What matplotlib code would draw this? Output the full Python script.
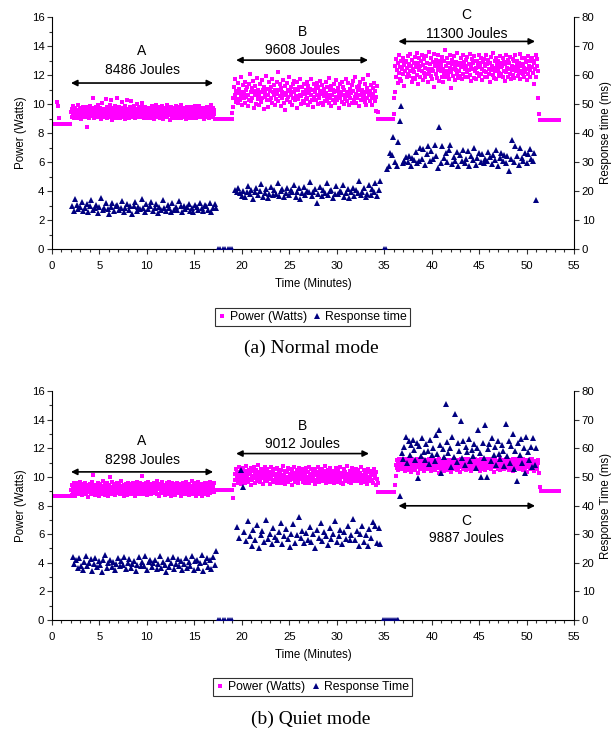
import numpy as np
import matplotlib.pyplot as plt
from matplotlib.lines import Line2D
from matplotlib.ticker import MultipleLocator

plt.rcParams['font.family'] = ['Liberation Sans', 'DejaVu Sans']

PINK = '#ff00ff'
NAVY = '#000080'

# ---- (a) normal mode: power (W), one list per segment, spans in minutes
pa_idle1 = [8.62, 8.62, 8.62, 8.62, 8.62, 10.15, 9.85, 9.02, 8.62, 8.62,
            8.62, 8.62, 8.62, 8.62, 8.62, 8.62, 8.62, 8.62, 8.62, 8.62]
pa_A = [9.45, 9.12, 9.68, 9.30, 9.85, 9.05, 9.52, 9.21, 9.74, 9.38, 9.02, 9.61, 9.27,
        9.90, 9.15, 9.48, 9.33, 9.70, 8.95, 9.56, 9.41, 9.19, 9.82, 9.08, 9.36, 9.64,
        9.25, 9.77, 9.11, 8.45, 9.50, 9.29, 9.66, 9.03, 9.43, 9.88, 9.17, 9.59, 9.35,
        10.45, 9.22, 9.71, 9.06, 9.47, 9.31, 9.80, 9.14, 9.55, 9.39, 9.96, 9.09, 9.62,
        9.26, 9.73, 9.00, 9.44, 10.05, 9.18, 9.57, 9.34, 9.69, 9.10, 9.49, 10.35, 9.23,
        9.83, 9.07, 9.40, 9.65, 9.28, 9.93, 9.13, 9.53, 10.25, 9.37, 8.92, 9.75, 9.20,
        9.58, 9.32, 9.87, 9.04, 9.46, 10.40, 9.16, 9.63, 9.36, 9.78, 9.01, 9.51, 9.24,
        9.70, 9.42, 10.15, 9.11, 9.60, 9.33, 9.84, 8.97, 9.54, 9.27, 10.30, 9.19, 9.67,
        9.40, 9.06, 9.79, 9.30, 9.57, 10.20, 9.12, 9.45, 9.72, 9.25, 9.89, 9.03, 9.52,
        9.36, 9.66, 9.14, 9.98, 9.21, 9.48, 9.74, 9.09, 9.60, 9.35, 9.82, 9.28, 10.05,
        9.32, 9.58, 9.07, 9.81, 9.44, 9.19, 9.67, 9.02, 9.53, 9.29, 9.76, 9.13, 9.40,
        9.62, 9.05, 9.49, 9.85, 9.24, 9.37, 9.71, 8.98, 9.55, 9.16, 9.91, 9.33, 9.08,
        9.69, 9.42, 9.20, 9.79, 9.04, 9.51, 9.28, 9.63, 9.12, 9.87, 9.38, 9.00, 9.59,
        9.26, 9.74, 9.15, 9.47, 9.95, 9.09, 9.34, 9.66, 9.22, 9.56, 8.88, 9.43, 9.80,
        9.18, 9.61, 9.31, 9.03, 9.70, 9.46, 9.11, 9.85, 9.25, 9.52, 9.06, 9.77, 9.39,
        9.14, 9.64, 9.36, 9.92, 9.01, 9.50, 9.23, 9.73, 9.10, 9.45, 9.68, 9.30, 8.94,
        9.57, 9.21, 9.83, 9.07, 9.41, 9.65, 9.17, 9.54, 9.35, 9.78, 9.02, 9.48, 9.27,
        9.72, 9.13, 9.60, 9.38, 9.88, 9.05, 9.44, 9.24, 9.67, 9.19, 9.53, 9.86, 9.32,
        9.09, 9.62, 9.40, 9.75, 9.16, 9.50, 8.99, 9.70, 9.28, 9.58, 9.11, 9.82, 9.36,
        9.46, 9.20, 9.66, 9.04, 9.55, 9.33, 9.90, 9.14, 9.42, 9.74, 9.26, 9.60, 9.31]
pa_gap1 = [8.95, 8.95, 8.95, 8.95, 8.95, 8.95, 8.95, 8.95, 8.95, 8.95,
           8.95, 8.95, 8.95, 8.95, 8.95, 8.95, 8.95, 8.95, 8.95]
pa_B = [9.35, 9.80, 10.45, 11.20, 10.60, 11.70, 10.15, 10.90, 10.35, 11.45, 10.05, 10.75, 11.05,
        10.25, 11.90, 10.55, 10.85, 9.95, 11.30, 10.40, 10.70, 11.55, 10.10, 10.95, 10.50, 11.15,
        9.85, 10.65, 11.35, 10.30, 12.05, 10.80, 10.20, 11.10, 10.45, 11.60, 9.75, 10.90, 10.60,
        11.25, 10.00, 10.70, 11.80, 10.35, 11.00, 10.55, 9.90, 11.40, 10.15, 10.85, 11.65, 10.40,
        10.95, 9.65, 11.20, 10.50, 10.75, 11.95, 10.25, 11.05, 10.60, 9.80, 11.50, 10.30, 10.90,
        11.15, 10.45, 11.75, 10.05, 10.80, 11.30, 10.65, 9.95, 11.00, 10.35, 11.55, 10.70, 12.20,
        10.20, 10.95, 11.40, 10.55, 9.85, 11.10, 10.40, 10.85, 11.65, 10.10, 10.60, 11.25, 9.60,
        10.75, 11.45, 10.30, 11.00, 10.50, 11.85, 10.15, 10.90, 11.20, 10.65, 9.90, 11.35, 10.45,
        10.80, 11.60, 10.25, 11.05, 10.55, 9.75, 11.50, 10.35, 10.95, 11.15, 10.60, 11.70, 10.00,
        10.55, 11.15, 10.20, 10.85, 11.40, 10.05, 10.70, 11.00, 10.35, 11.55, 10.45, 9.90, 11.25,
        10.75, 10.15, 11.05, 10.60, 11.70, 10.30, 10.95, 9.80, 11.35, 10.50, 10.80, 11.10, 10.25,
        11.45, 10.65, 10.00, 11.20, 10.40, 10.90, 11.60, 10.10, 10.70, 11.30, 9.95, 10.85, 10.55,
        11.05, 10.20, 11.50, 10.75, 10.35, 11.15, 10.60, 11.80, 10.05, 10.95, 10.45, 11.25, 9.85,
        10.65, 11.00, 10.30, 11.40, 10.80, 10.10, 11.65, 10.50, 10.90, 10.25, 11.10, 10.70, 9.70,
        11.35, 10.40, 10.85, 11.55, 10.15, 10.60, 11.20, 10.00, 10.95, 10.35, 11.75, 10.55, 10.80,
        10.20, 11.45, 10.65, 9.90, 11.05, 10.45, 10.75, 11.30, 10.10, 10.90, 11.60, 10.30, 10.50,
        11.85, 10.70, 10.05, 11.15, 10.40, 10.95, 11.25, 9.85, 10.60, 11.50, 10.25, 10.85, 11.00,
        10.35, 11.70, 10.55, 10.15, 11.35, 10.80, 9.95, 11.10, 10.45, 12.00, 10.65, 10.90, 10.20,
        10.85, 11.30, 10.40, 9.95, 11.10, 10.70, 11.45, 10.20, 10.90, 9.55, 10.50, 11.25, 9.45]
pa_gap2 = [9.00, 9.00, 9.00, 9.00, 9.00, 9.00, 9.00, 9.00,
           9.00, 9.00, 9.00, 9.00, 9.00, 9.00, 9.00, 9.00]
pa_C = [9.30, 10.40, 10.85, 12.60, 11.90, 13.10, 12.35, 11.45, 12.80, 12.15, 13.35, 11.75, 12.55,
        12.95, 11.60, 12.40, 13.20, 12.05, 12.70, 11.25, 12.90, 12.25, 13.00, 11.85, 12.50, 13.30,
        12.10, 12.75, 11.95, 13.45, 12.30, 12.65, 11.50, 13.05, 12.45, 11.80, 12.85, 12.20, 13.25,
        11.70, 12.55, 13.50, 12.00, 12.80, 11.40, 12.35, 13.15, 12.60, 11.90, 12.95, 12.25, 13.40,
        11.65, 12.70, 12.15, 13.10, 11.85, 12.50, 13.30, 12.05, 12.85, 11.55, 12.40, 13.60, 12.20,
        12.75, 11.95, 13.20, 12.45, 11.75, 12.90, 12.30, 13.45, 11.20, 12.60, 13.05, 12.10, 12.80,
        11.80, 12.35, 13.35, 12.55, 11.60, 13.00, 12.25, 12.70, 11.90, 13.25, 12.40, 11.50, 12.95,
        12.15, 13.75, 12.65, 11.85, 12.30, 13.15, 12.00, 12.85, 11.70, 12.50, 13.40, 12.20, 11.10,
        12.75, 13.05, 12.45, 11.95, 13.30, 12.60, 11.65, 12.90, 12.35, 13.50, 12.05, 12.70, 11.80,
        12.30, 12.85, 11.95, 13.15, 12.55, 11.70, 12.70, 13.35, 12.10, 12.90, 12.40, 11.85, 13.05,
        12.60, 12.20, 13.25, 11.90, 12.75, 12.35, 13.45, 12.00, 12.65, 11.60, 13.10, 12.45, 12.80,
        11.80, 13.30, 12.25, 12.95, 12.50, 11.75, 13.00, 12.15, 12.70, 13.40, 11.95, 12.55, 12.85,
        12.05, 13.20, 12.40, 11.65, 12.90, 12.30, 13.10, 11.85, 12.60, 12.20, 13.35, 12.75, 11.90,
        13.05, 12.45, 12.10, 12.80, 11.55, 13.25, 12.35, 12.65, 12.00, 13.50, 12.50, 11.80, 12.95,
        12.25, 13.15, 11.70, 12.70, 12.40, 13.00, 12.15, 11.95, 12.85, 13.30, 12.55, 12.05, 12.60,
        11.85, 13.20, 12.30, 12.90, 11.60, 12.75, 13.40, 12.20, 12.50, 11.90, 13.05, 12.45, 12.80,
        12.10, 13.25, 11.75, 12.65, 12.35, 13.10, 12.00, 12.95, 11.80, 12.55, 13.35, 12.25, 12.70,
        13.00, 11.95, 12.40, 12.85, 12.15, 13.45, 11.70, 12.60, 12.30, 13.15, 12.05, 12.75, 11.85,
        12.50, 13.20, 12.20, 12.90, 11.65, 12.45, 13.30, 12.10, 12.65, 12.95, 11.90, 12.35, 13.05,
        13.20, 12.55, 12.15, 13.00, 11.40, 12.80, 12.40, 13.35, 11.90, 12.65, 13.10, 12.25, 10.40, 9.30]
pa_idle2 = [8.88, 8.88, 8.88, 8.88, 8.88, 8.88, 8.88, 8.88, 8.88, 8.88, 8.88,
            8.88, 8.88, 8.88, 8.88, 8.88, 8.88, 8.88, 8.88, 8.88, 8.88]
pa_spans = [(0.0, 1.95), (2.0, 17.1), (17.2, 19.0), (19.0, 34.3), (34.4, 35.9), (36.0, 51.3), (51.4, 53.4)]

# (a) response time (ms)
ra_A = [14.8, 13.2, 17.2, 15.1, 13.8, 14.5, 16.3, 13.0, 14.2, 15.6, 12.8, 14.9, 16.8, 13.5, 14.0,
        15.3, 12.5, 14.6, 17.5, 13.3, 14.1, 15.8, 13.7, 12.2, 14.4, 16.0, 13.1, 14.8, 15.2, 13.6,
        14.3, 16.6, 12.9, 14.0, 15.5, 13.4, 14.7, 12.0, 15.0, 16.2, 13.2, 14.5, 13.9, 17.3, 14.1,
        12.6, 15.4, 13.8, 14.9, 16.1, 13.0, 14.3, 15.7, 12.4, 14.6, 13.5, 16.9, 14.2, 13.1, 15.2,
        14.0, 12.7, 15.9, 13.6, 14.4, 13.3, 16.4, 14.8, 12.9, 15.0, 13.7, 14.5, 15.6, 13.2, 14.1,
        12.8, 15.3, 14.6, 13.4, 16.0, 14.2, 13.0, 15.1, 14.7, 13.5, 15.8, 12.6, 14.3, 15.4, 14.0]
ra_zero1 = [0, 0, 0, 0, 0, 0, 0]
ra_B = [20.5, 19.8, 21.0, 19.2, 18.4, 20.1, 17.8, 19.5, 21.6, 18.9, 20.3, 17.2, 19.7, 21.2, 18.6,
        20.0, 22.4, 18.1, 19.4, 20.8, 17.6, 19.0, 21.4, 18.7, 20.2, 19.1, 22.8, 18.3, 19.9, 20.6,
        17.9, 19.3, 21.1, 18.5, 20.4, 19.6, 22.1, 18.0, 19.8, 20.9, 17.4, 19.2, 21.5, 18.8, 20.1,
        19.5, 23.0, 18.2, 19.7, 20.7, 16.0, 19.0, 21.3, 18.4, 20.3, 19.4, 22.6, 18.6, 19.9, 20.5,
        17.7, 19.1, 21.8, 18.9, 20.0, 19.6, 22.2, 18.1, 19.3, 20.8, 17.5, 19.8, 21.0, 18.3, 20.4,
        19.2, 23.4, 18.7, 19.5, 21.2, 17.9, 19.0, 22.0, 18.5, 20.6, 19.7, 22.9, 18.2, 20.2, 23.3]
ra_zero2 = [0, 0]
ra_C = [27.5, 28.8, 33.0, 32.5, 38.8, 30.0, 28.5, 36.8, 44.0, 49.2, 29.5, 30.5, 31.8, 30.0, 32.0,
        28.5, 31.5, 30.8, 33.5, 29.8, 30.5, 34.8, 31.2, 34.5, 29.0, 32.8, 35.5, 30.2, 33.8, 31.0,
        35.8, 32.0, 28.0, 42.0, 29.5, 35.5, 31.5, 33.2, 30.0, 34.0, 35.8, 29.2, 31.8, 30.5, 33.5,
        28.8, 32.5, 30.2, 34.2, 29.5, 31.0, 33.8, 28.5, 32.0, 30.8, 34.8, 29.0, 31.5, 33.0, 30.0,
        32.8, 29.8, 31.2, 30.5, 33.5, 31.8, 29.2, 32.5, 30.8, 34.0, 28.8, 31.5, 33.2, 30.2, 32.5,
        29.5, 32.0, 27.0, 31.0, 37.5, 30.0, 35.5, 32.2, 29.0, 34.8, 31.5, 30.5, 33.0, 29.8, 32.8,
        34.5, 31.0, 30.2, 33.2, 16.8]
ra_spans = [(2.1, 17.3), (17.5, 19.0), (19.3, 34.6), (35.0, 35.15), (35.3, 51.0)]

# ---- (b) quiet mode: power (W)
pb_idle1 = [8.66, 8.66, 8.66, 8.66, 8.66, 8.66, 8.66, 8.66, 8.66, 8.66, 8.66,
            8.66, 8.66, 8.66, 8.66, 8.66, 8.66, 8.66, 8.66, 8.66, 8.66]
pb_A = [9.05, 8.75, 9.40, 9.15, 8.85, 9.55, 9.00, 9.30, 8.70, 9.60, 9.10, 8.90, 9.45,
        9.20, 8.80, 9.35, 9.05, 9.65, 8.95, 9.25, 8.72, 9.50, 9.12, 8.88, 9.38, 9.02,
        9.58, 8.78, 9.28, 9.08, 8.62, 9.42, 9.18, 8.92, 9.52, 9.00, 9.32, 8.82, 9.62,
        9.14, 10.12, 8.96, 9.36, 9.06, 8.74, 9.46, 9.22, 8.86, 9.56, 9.04, 9.26, 8.68,
        9.48, 9.16, 8.94, 9.34, 9.10, 9.70, 8.84, 9.24, 9.02, 8.76, 9.44, 9.20, 8.98,
        9.54, 9.08, 8.66, 9.40, 9.12, 10.02, 8.90, 9.30, 9.06, 9.64, 8.80, 9.18, 9.50,
        8.96, 9.28, 8.72, 9.38, 9.10, 9.58, 8.88, 9.22, 9.00, 9.46, 8.78, 9.34, 9.14,
        9.68, 8.92, 9.26, 9.04, 8.64, 9.42, 9.16, 8.86, 9.52, 9.08, 9.32, 8.74, 9.60,
        9.02, 9.24, 8.94, 9.48, 9.12, 8.82, 9.36, 9.06, 9.56, 8.98, 9.20, 8.70, 9.44,
        9.10, 9.30, 8.90, 9.62, 9.00, 9.40, 8.84, 9.18, 9.54, 8.96, 9.28, 10.08, 9.05,
        9.22, 8.84, 9.48, 9.06, 8.96, 9.58, 9.14, 8.72, 9.36, 9.02, 9.64, 8.90, 9.28,
        9.10, 9.52, 8.78, 9.40, 9.00, 9.26, 8.86, 9.60, 9.16, 8.94, 9.44, 9.04, 9.68,
        8.80, 9.32, 9.12, 8.70, 9.50, 9.20, 8.98, 9.38, 9.08, 9.62, 8.88, 9.24, 9.46,
        9.02, 8.76, 9.34, 9.18, 9.56, 8.92, 9.30, 9.06, 9.66, 8.82, 9.42, 9.14, 8.68,
        9.54, 9.00, 9.26, 8.96, 9.48, 9.10, 8.74, 9.36, 9.22, 9.60, 8.90, 9.16, 9.40,
        8.86, 9.52, 9.04, 9.28, 8.64, 9.44, 9.12, 8.98, 9.58, 9.08, 9.34, 8.80, 9.62,
        9.18, 8.94, 9.46, 9.02, 9.30, 8.72, 9.50, 9.20, 8.88, 9.38, 9.06, 9.70, 8.84,
        9.24, 9.56, 8.92, 9.32, 9.14, 8.66, 9.42, 9.00, 9.64, 8.78, 9.28, 9.10, 9.52,
        8.96, 9.36, 9.16, 8.70, 9.48, 9.04, 9.26, 8.82, 9.58, 9.12, 9.40, 8.90, 9.22,
        9.54, 8.76, 9.34, 9.08, 9.66, 8.86, 9.44, 9.18, 8.98, 9.30, 9.02, 9.60, 8.94]
pb_gap1 = [9.08, 9.08, 9.08, 9.08, 9.08, 9.08, 9.08, 9.08, 9.08, 9.08,
           9.08, 9.08, 9.08, 9.08, 9.08, 9.08, 9.08, 9.08, 8.50]
pb_B = [9.45, 10.20, 9.75, 10.55, 9.90, 10.35, 9.60, 10.10, 10.70, 9.85, 10.25, 9.50, 10.45,
        10.00, 9.70, 10.60, 10.15, 9.80, 10.40, 9.55, 10.05, 10.75, 9.95, 10.30, 9.65, 10.50,
        9.88, 10.18, 9.42, 10.62, 10.08, 9.78, 10.38, 9.92, 10.68, 9.58, 10.22, 9.98, 10.48,
        9.72, 10.12, 10.80, 9.85, 10.32, 9.62, 10.02, 10.58, 9.90, 10.28, 9.52, 10.42, 10.06,
        9.76, 10.66, 9.96, 10.24, 9.68, 10.52, 10.14, 9.82, 10.36, 9.48, 10.04, 10.72, 9.94,
        10.30, 9.64, 10.46, 10.10, 9.80, 10.56, 9.90, 10.20, 9.56, 10.64, 10.00, 9.74, 10.40,
        9.86, 10.26, 9.60, 10.50, 10.08, 9.96, 10.78, 9.70, 10.16, 9.50, 10.44, 10.02, 9.84,
        10.34, 9.66, 10.60, 9.92, 10.22, 9.78, 10.54, 10.06, 9.40, 10.38, 9.88, 10.12, 10.70,
        9.62, 10.28, 9.98, 10.48, 9.72, 10.18, 9.54, 10.62, 10.04, 9.82, 10.32, 9.90, 10.58,
        10.12, 9.66, 10.44, 9.88, 10.28, 9.56, 10.62, 10.02, 9.76, 10.36, 9.92, 10.70, 9.60,
        10.20, 9.84, 10.52, 10.06, 9.70, 10.40, 9.96, 10.24, 9.52, 10.58, 10.14, 9.80, 10.32,
        9.90, 10.66, 9.62, 10.08, 10.46, 9.74, 10.18, 9.98, 10.56, 9.68, 10.30, 9.86, 10.74,
        10.00, 9.58, 10.38, 10.10, 9.82, 10.50, 9.94, 10.26, 9.64, 10.64, 10.04, 9.78, 10.42,
        9.88, 10.16, 9.54, 10.34, 10.08, 9.72, 10.60, 9.92, 10.22, 9.66, 10.48, 10.02, 9.84,
        10.68, 9.60, 10.30, 9.96, 10.12, 9.50, 10.54, 10.06, 9.76, 10.36, 9.90, 10.76, 9.70,
        10.20, 10.00, 9.62, 10.44, 9.86, 10.26, 9.56, 10.62, 10.10, 9.80, 10.40, 9.98, 10.18,
        9.68, 10.58, 9.94, 10.32, 9.74, 10.50, 10.04, 9.82, 10.28, 9.58, 10.66, 9.92, 10.14,
        9.64, 10.46, 10.08, 9.78, 10.38, 9.88, 10.22, 9.52, 10.56, 10.00, 9.72, 10.34, 9.96,
        9.68, 10.14, 10.42, 9.76, 10.26, 9.58, 10.52, 9.94, 10.10, 9.46, 10.36, 9.86, 9.60]
pb_gap2 = [8.97, 8.97, 8.97, 8.97, 8.97, 8.97, 8.97, 8.97, 8.97,
           8.97, 8.97, 8.97, 8.97, 8.97, 8.97, 8.97, 8.97, 9.43]
pb_C = [10.05, 10.85, 11.20, 10.60, 11.05, 10.45, 11.25, 10.90, 10.70, 11.15, 10.55, 11.00, 10.80,
        11.28, 10.65, 10.95, 10.40, 11.10, 10.75, 11.22, 10.58, 10.88, 11.08, 10.48, 11.18, 10.72,
        10.98, 10.35, 11.26, 10.82, 10.62, 11.12, 10.92, 10.50, 11.02, 10.78, 11.24, 10.68, 10.96,
        10.30, 11.16, 10.86, 10.56, 11.06, 10.74, 11.28, 10.64, 10.94, 10.44, 11.14, 10.84, 10.60,
        11.20, 10.90, 10.52, 11.04, 10.76, 11.26, 10.66, 10.98, 10.38, 11.10, 10.80, 10.58, 11.22,
        10.88, 10.70, 11.00, 10.46, 11.18, 10.82, 10.62, 11.08, 10.92, 10.28, 11.24, 10.72, 10.96,
        10.54, 11.12, 10.86, 10.66, 11.02, 10.42, 11.28, 10.78, 10.94, 10.60, 11.16, 10.84, 10.50,
        11.06, 10.74, 11.20, 10.64, 10.98, 10.36, 11.14, 10.88, 10.68, 11.26, 10.80, 10.56, 11.04,
        10.92, 10.48, 11.18, 10.76, 10.62, 11.10, 10.90, 10.32, 11.22, 10.84, 10.70, 11.00, 10.58,
        11.02, 10.66, 11.22, 10.84, 10.50, 11.14, 10.92, 10.72, 11.26, 10.58, 10.98, 11.08, 10.80,
        10.44, 11.18, 10.88, 10.64, 11.04, 10.76, 11.28, 10.54, 10.96, 11.12, 10.70, 10.86, 11.20,
        10.62, 11.00, 10.40, 11.24, 10.82, 10.94, 10.56, 11.16, 10.74, 11.06, 10.90, 10.48, 11.28,
        10.68, 10.98, 11.10, 10.78, 10.60, 11.22, 10.86, 10.52, 11.02, 10.92, 10.70, 11.18, 10.84,
        10.36, 11.26, 10.96, 10.66, 11.08, 10.80, 10.58, 11.14, 10.88, 10.74, 11.24, 10.46, 11.00,
        10.90, 10.62, 11.20, 10.82, 10.54, 11.06, 10.94, 10.72, 11.28, 10.64, 10.98, 11.12, 10.78,
        10.50, 11.16, 10.86, 10.68, 11.04, 10.92, 10.42, 11.22, 10.76, 10.96, 11.10, 10.60, 10.84,
        11.26, 10.70, 10.88, 11.02, 10.56, 11.18, 10.80, 10.66, 11.08, 10.94, 10.48, 11.24, 10.74,
        10.90, 11.14, 10.62, 10.98, 10.34, 11.20, 10.82, 10.72, 11.06, 10.86, 10.58, 11.28, 10.78,
        11.24, 10.82, 10.96, 10.44, 11.12, 10.72, 10.66, 11.08, 10.86, 10.54, 11.16, 10.94, 10.25]
pb_idle2 = [9.30, 9.00, 9.00, 9.00, 9.00, 9.00, 9.00, 9.00, 9.00, 9.00, 9.00,
            9.00, 9.00, 9.00, 9.00, 9.00, 9.00, 9.00, 9.00, 9.00, 9.00]
pb_spans = [(0.0, 2.0), (2.0, 17.1), (17.2, 19.1), (19.2, 34.3), (34.4, 36.1), (36.2, 51.3), (51.4, 53.4)]

# (b) response time (ms)
rb_A = [22.0, 19.5, 20.8, 18.2, 21.5, 19.0, 17.6, 20.3, 22.3, 18.8, 20.0, 21.2, 17.2, 19.7, 21.8,
        18.5, 20.5, 19.2, 16.9, 20.9, 22.6, 18.0, 19.8, 21.0, 18.6, 20.2, 17.4, 19.4, 21.6, 18.9,
        20.6, 19.1, 22.1, 17.8, 20.0, 21.3, 18.3, 19.6, 20.7, 17.0, 19.3, 21.9, 18.7, 20.4, 19.0,
        22.4, 17.5, 20.1, 21.1, 18.4, 19.9, 20.8, 17.9, 19.5, 22.2, 18.1, 20.3, 19.2, 16.8, 21.4,
        18.6, 20.0, 22.0, 17.7, 19.7, 21.2, 18.9, 20.5, 17.3, 19.4, 21.7, 18.2, 20.2, 19.0, 22.5,
        17.6, 20.6, 21.0, 18.0, 19.8, 22.8, 17.2, 20.4, 21.5, 18.5, 20.9, 17.8, 22.0, 19.3, 24.2]
rb_zero1 = [0, 0, 0, 0, 0, 0, 0]
rb_B = [32.5, 28.6, 52.4, 46.6, 30.8, 27.5, 34.5, 29.2, 26.0, 31.5, 28.0, 33.2, 25.2, 29.8, 31.0,
        27.2, 35.0, 28.4, 30.2, 26.6, 32.0, 29.0, 27.8, 30.6, 34.0, 26.4, 29.5, 31.8, 28.2, 25.5,
        30.0, 33.6, 27.0, 29.6, 36.0, 28.8, 31.2, 26.8, 30.4, 28.0, 32.6, 27.4, 29.9, 25.0, 31.4,
        28.6, 33.8, 27.6, 30.8, 29.2, 26.2, 32.2, 28.4, 30.0, 34.6, 27.2, 29.4, 31.6, 26.6, 30.6,
        28.2, 33.0, 27.8, 29.8, 35.2, 28.0, 31.0, 26.0, 30.2, 32.8, 27.4, 29.6, 25.8, 31.8, 28.8,
        34.4, 33.0, 27.0, 32.0, 26.5]
rb_zero2 = [0, 0, 0, 0, 0, 0, 0, 0, 0]
rb_C = [43.5, 58.5, 56.2, 60.5, 63.8, 55.0, 62.5, 57.8, 61.2, 63.0, 59.5, 55.8, 62.0, 49.7, 60.8,
        57.2, 63.5, 58.8, 56.0, 61.5, 59.2, 54.5, 62.8, 57.5, 60.2, 55.5, 64.5, 58.0, 66.5, 61.0,
        51.2, 59.8, 56.8, 75.5, 62.2, 58.2, 60.0, 53.5, 64.0, 57.0, 72.0, 55.2, 61.8, 59.0, 69.5,
        56.5, 62.5, 54.0, 60.6, 58.6, 63.2, 55.6, 59.4, 57.4, 61.6, 53.0, 60.0, 66.5, 58.4, 50.0,
        62.0, 56.6, 68.0, 49.8, 59.6, 61.4, 55.4, 63.6, 57.6, 60.4, 54.2, 62.6, 58.0, 56.2, 61.0,
        59.2, 53.8, 68.5, 57.2, 62.4, 55.0, 60.8, 65.0, 52.6, 59.0, 48.7, 61.8, 57.8, 63.2, 54.8,
        60.2, 51.5, 63.8, 58.8, 55.8, 60.6, 53.5, 63.5, 54.0, 60.0]
rb_spans = [(2.2, 17.3), (17.5, 19.0), (19.5, 34.6), (34.9, 36.5), (36.7, 51.0)]

# annotations: letter, energy, arrow x range, arrow y, letter y, energy y (left-axis units)
ann_a = [('A', '8486 Joules', (2.0, 16.98), 11.45, 13.65, 12.37),
         ('B', '9608 Joules', (19.4, 33.3), 13.03, 14.97, 13.70),
         ('C', '11300 Joules', (36.5, 50.9), 14.32, 16.16, 14.83)]
ann_b = [('A', '8298 Joules', (2.0, 16.98), 10.35, 12.49, 11.21),
         ('B', '9012 Joules', (19.4, 33.4), 11.63, 13.53, 12.28),
         ('C', '9887 Joules', (36.5, 50.9), 7.98, 6.93, 5.70)]


def times(spans, series):
    return np.concatenate([np.linspace(a, b, len(s)) for (a, b), s in zip(spans, series)])


def panel(rect, p_series, p_spans, r_series, r_spans, anns, rlabel, leg_label, caption, leg_y, cap_y):
    fig = plt.gcf()
    ax = fig.add_axes(rect)
    ax2 = ax.twinx()
    ax.plot(times(p_spans, p_series), np.concatenate(p_series), 's', ms=2.4, mew=0, c=PINK)
    ax2.plot(times(r_spans, r_series), np.concatenate(r_series), '^', ms=4.1, mew=0, c=NAVY)

    ax.set_xlim(0, 55)
    ax.set_ylim(0, 16)
    ax2.set_ylim(0, 80)
    ax.xaxis.set_major_locator(MultipleLocator(5))
    ax.xaxis.set_minor_locator(MultipleLocator(1))
    ax.yaxis.set_major_locator(MultipleLocator(2))
    ax.yaxis.set_minor_locator(MultipleLocator(1))
    ax2.yaxis.set_major_locator(MultipleLocator(10))
    for a in (ax, ax2):
        a.spines['top'].set_visible(False)
        a.tick_params(which='both', direction='out', labelsize=8.2, width=0.8, color='#333333', pad=2)
        a.tick_params(which='major', length=3.5)
        a.tick_params(which='minor', length=2.5)
    ax.tick_params(axis='x', pad=5)
    ax.spines['right'].set_visible(False)
    ax2.spines['left'].set_visible(False)
    ax2.spines['bottom'].set_visible(False)

    ax.set_xlabel('Time (Minutes)', fontsize=8.3, labelpad=5.5)
    ax.set_ylabel('Power (Watts)', fontsize=8.3, labelpad=3)
    ax2.set_ylabel(rlabel, fontsize=8.3, labelpad=4)

    for letter, joules, (x0, x1), ya, yl, yj in anns:
        xm = (x0 + x1) / 2
        ax.annotate('', xy=(x0, ya), xytext=(x1, ya),
                    arrowprops=dict(arrowstyle='<|-|>', color='black', lw=1.2,
                                    mutation_scale=9, shrinkA=0, shrinkB=0))
        ax.text(xm, yl, letter, ha='center', va='center', fontsize=10)
        ax.text(xm, yj, joules, ha='center', va='center', fontsize=10)

    handles = [Line2D([], [], ls='', marker='s', ms=2.6, mew=0, c=PINK),
               Line2D([], [], ls='', marker='^', ms=4.3, mew=0, c=NAVY)]
    leg = fig.legend(handles, ['Power (Watts)', leg_label], loc='center', ncol=2,
                     bbox_to_anchor=(0.507, leg_y), fontsize=8.8, frameon=True, fancybox=False,
                     handlelength=0.7, handletextpad=0.3, columnspacing=0.5, borderpad=0.25)
    leg.get_frame().set_edgecolor('black')
    leg.get_frame().set_linewidth(0.8)
    fig.text(0.505, cap_y, caption, ha='center', va='center', fontsize=14,
             family=['Liberation Serif', 'DejaVu Serif'])


fig = plt.figure(figsize=(6.16, 7.29), dpi=100)
panel([0.0844, 0.6584, 0.8474, 0.3182],
      [pa_idle1, pa_A, pa_gap1, pa_B, pa_gap2, pa_C, pa_idle2], pa_spans,
      [ra_A, ra_zero1, ra_B, ra_zero2, ra_C], ra_spans, ann_a,
      'Response time (ms)', 'Response time', '(a) Normal mode', 0.565, 0.522)
panel([0.0844, 0.1495, 0.8474, 0.3141],
      [pb_idle1, pb_A, pb_gap1, pb_B, pb_gap2, pb_C, pb_idle2], pb_spans,
      [rb_A, rb_zero1, rb_B, rb_zero2, rb_C], rb_spans, ann_b,
      'Response Time (ms)', 'Response Time', '(b) Quiet mode', 0.0576, 0.0137)
fig.savefig('out.png', dpi=100)
